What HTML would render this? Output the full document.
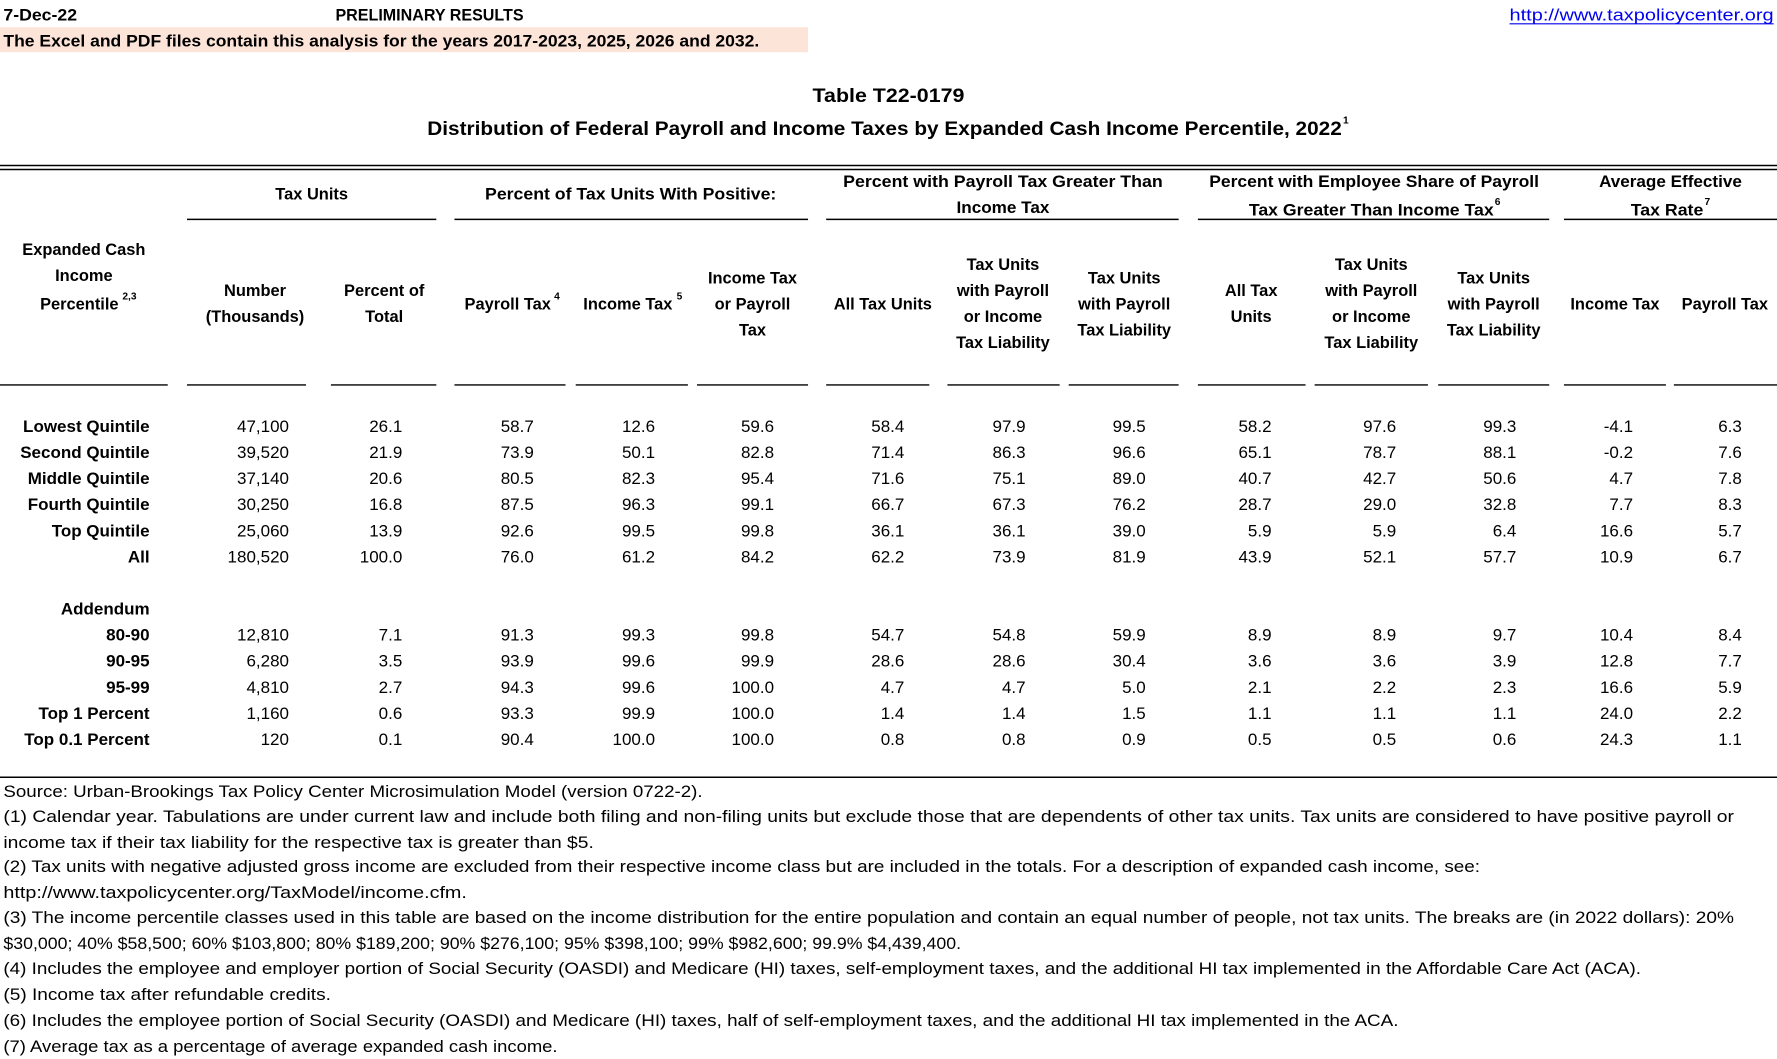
<!DOCTYPE html>
<html><head><meta charset="utf-8"><style>
html,body{margin:0;padding:0;background:#fff;}
svg{display:block;}
text{font-family:"Liberation Sans",Arial,sans-serif;fill:#000;}
.b{font-weight:bold;font-size:14.5px;}
.h{font-weight:bold;font-size:14.5px;text-anchor:middle;}
.d{font-size:15px;text-anchor:end;}
.s{font-weight:bold;font-size:15px;text-anchor:end;}
.f{font-size:14.5px;}
.sup{font-size:9px;}
</style></head><body>
<svg width="1777" height="1059" viewBox="0 0 1568 934" preserveAspectRatio="none" xmlns="http://www.w3.org/2000/svg">
<rect x="0" y="24" width="713" height="22" fill="#fde4d8"/>
<text class="b" x="3" y="18" textLength="65" lengthAdjust="spacingAndGlyphs">7-Dec-22</text>
<text class="b" x="296" y="18" textLength="166" lengthAdjust="spacingAndGlyphs">PRELIMINARY RESULTS</text>
<text class="b" x="3" y="41" textLength="667" lengthAdjust="spacingAndGlyphs">The Excel and PDF files contain this analysis for the years 2017-2023, 2025, 2026 and 2032.</text>
<text x="1332" y="18" style="font-size:15px;fill:#0000ee;" textLength="233" lengthAdjust="spacingAndGlyphs">http://www.taxpolicycenter.org</text>
<line x1="1332" y1="21" x2="1565" y2="21" stroke="#0000ee" stroke-width="1"/>
<text class="b" x="717" y="90" style="font-size:17.5px" textLength="134" lengthAdjust="spacingAndGlyphs">Table T22-0179</text>
<text class="b" x="377" y="119" style="font-size:17.5px" textLength="807" lengthAdjust="spacingAndGlyphs">Distribution of Federal Payroll and Income Taxes by Expanded Cash Income Percentile, 2022</text>
<text class="sup" x="1185" y="109" style="font-weight:bold">1</text>
<line x1="0" y1="146" x2="1568" y2="146" stroke="#000" stroke-width="1.3"/>
<line x1="0" y1="149.5" x2="1568" y2="149.5" stroke="#000" stroke-width="1.3"/>
<text class="h" x="275" y="176">Tax Units</text>
<text class="b" x="428" y="176" textLength="257" lengthAdjust="spacingAndGlyphs">Percent of Tax Units With Positive:</text>
<text class="b" x="744" y="165" textLength="282" lengthAdjust="spacingAndGlyphs">Percent with Payroll Tax Greater Than</text>
<text class="b" x="844" y="188" textLength="82" lengthAdjust="spacingAndGlyphs">Income Tax</text>
<text class="b" x="1067" y="165" textLength="291" lengthAdjust="spacingAndGlyphs">Percent with Employee Share of Payroll</text>
<text class="b" x="1102" y="190" textLength="216" lengthAdjust="spacingAndGlyphs">Tax Greater Than Income Tax</text>
<text class="sup" x="1319" y="181" style="font-weight:bold">6</text>
<text class="b" x="1411" y="165" textLength="126" lengthAdjust="spacingAndGlyphs">Average Effective</text>
<text class="b" x="1439" y="190" textLength="64" lengthAdjust="spacingAndGlyphs">Tax Rate</text>
<text class="sup" x="1504" y="181" style="font-weight:bold">7</text>
<g stroke="#000" stroke-width="1.3">
<line x1="165" y1="193.5" x2="385" y2="193.5"/>
<line x1="401" y1="193.5" x2="713" y2="193.5"/>
<line x1="729" y1="193.5" x2="1040" y2="193.5"/>
<line x1="1057" y1="193.5" x2="1367" y2="193.5"/>
<line x1="1380" y1="193.5" x2="1568" y2="193.5"/>
<line x1="0" y1="339.5" x2="148" y2="339.5"/>
<line x1="165" y1="339.5" x2="270" y2="339.5"/>
<line x1="292" y1="339.5" x2="385" y2="339.5"/>
<line x1="401" y1="339.5" x2="499" y2="339.5"/>
<line x1="508" y1="339.5" x2="607" y2="339.5"/>
<line x1="615" y1="339.5" x2="713" y2="339.5"/>
<line x1="729" y1="339.5" x2="820" y2="339.5"/>
<line x1="836" y1="339.5" x2="935" y2="339.5"/>
<line x1="943" y1="339.5" x2="1040" y2="339.5"/>
<line x1="1057" y1="339.5" x2="1152" y2="339.5"/>
<line x1="1160" y1="339.5" x2="1260" y2="339.5"/>
<line x1="1269" y1="339.5" x2="1367" y2="339.5"/>
<line x1="1380" y1="339.5" x2="1470" y2="339.5"/>
<line x1="1477" y1="339.5" x2="1568" y2="339.5"/>
<line x1="0" y1="685.5" x2="1568" y2="685.5"/>
</g>
<text class="h" x="74" y="225">Expanded Cash</text>
<text class="h" x="74" y="248">Income</text>
<text class="h" x="70" y="273">Percentile</text><text class="sup" x="108" y="264" style="font-weight:bold">2,3</text>
<text class="h" x="225" y="261">Number</text>
<text class="h" x="225" y="284">(Thousands)</text>
<text class="h" x="339" y="261">Percent of</text>
<text class="h" x="339" y="284">Total</text>
<text class="h" x="448" y="273">Payroll Tax</text><text class="sup" x="489" y="264" style="font-weight:bold">4</text>
<text class="h" x="554" y="273">Income Tax</text><text class="sup" x="597" y="264" style="font-weight:bold">5</text>
<text class="h" x="664" y="250">Income Tax</text>
<text class="h" x="664" y="273">or Payroll</text>
<text class="h" x="664" y="296">Tax</text>
<text class="h" x="779" y="273">All Tax Units</text>
<text class="h" x="885" y="238">Tax Units</text>
<text class="h" x="885" y="261">with Payroll</text>
<text class="h" x="885" y="284">or Income</text>
<text class="h" x="885" y="307">Tax Liability</text>
<text class="h" x="992" y="250">Tax Units</text>
<text class="h" x="992" y="273">with Payroll</text>
<text class="h" x="992" y="296">Tax Liability</text>
<text class="h" x="1104" y="261">All Tax</text>
<text class="h" x="1104" y="284">Units</text>
<text class="h" x="1210" y="238">Tax Units</text>
<text class="h" x="1210" y="261">with Payroll</text>
<text class="h" x="1210" y="284">or Income</text>
<text class="h" x="1210" y="307">Tax Liability</text>
<text class="h" x="1318" y="250">Tax Units</text>
<text class="h" x="1318" y="273">with Payroll</text>
<text class="h" x="1318" y="296">Tax Liability</text>
<text class="h" x="1425" y="273">Income Tax</text>
<text class="h" x="1522" y="273">Payroll Tax</text>
<text class="s" x="132" y="381">Lowest Quintile</text>
<text class="s" x="132" y="404">Second Quintile</text>
<text class="s" x="132" y="427">Middle Quintile</text>
<text class="s" x="132" y="450">Fourth Quintile</text>
<text class="s" x="132" y="473">Top Quintile</text>
<text class="s" x="132" y="496">All</text>
<text class="s" x="132" y="542">Addendum</text>
<text class="s" x="132" y="565">80-90</text>
<text class="s" x="132" y="588">90-95</text>
<text class="s" x="132" y="611">95-99</text>
<text class="s" x="132" y="634">Top 1 Percent</text>
<text class="s" x="132" y="657">Top 0.1 Percent</text>
<text class="f" x="3" y="703" textLength="617" lengthAdjust="spacingAndGlyphs">Source: Urban-Brookings Tax Policy Center Microsimulation Model (version 0722-2).</text>
<text class="f" x="3" y="725" textLength="1527" lengthAdjust="spacingAndGlyphs">(1) Calendar year. Tabulations are under current law and include both filing and non-filing units but exclude those that are dependents of other tax units.  Tax units are considered to have positive payroll or</text>
<text class="f" x="3" y="748" textLength="521" lengthAdjust="spacingAndGlyphs">income tax if their tax liability for the respective tax is greater than $5.</text>
<text class="f" x="3" y="769" textLength="1303" lengthAdjust="spacingAndGlyphs">(2) Tax units with negative adjusted gross income are excluded from their respective income class but are included in the totals. For a description of expanded cash income, see:</text>
<text class="f" x="3" y="792" textLength="409" lengthAdjust="spacingAndGlyphs">http://www.taxpolicycenter.org/TaxModel/income.cfm.</text>
<text class="f" x="3" y="814" textLength="1527" lengthAdjust="spacingAndGlyphs">(3) The income percentile classes used in this table are based on the income distribution for the entire population and contain an equal number of people, not tax units. The breaks are (in 2022 dollars): 20%</text>
<text class="f" x="3" y="837" textLength="845" lengthAdjust="spacingAndGlyphs">$30,000; 40% $58,500; 60% $103,800; 80% $189,200; 90% $276,100; 95% $398,100; 99% $982,600; 99.9% $4,439,400.</text>
<text class="f" x="3" y="859" textLength="1445" lengthAdjust="spacingAndGlyphs">(4) Includes the employee and employer portion of Social Security (OASDI) and Medicare (HI) taxes, self-employment taxes, and the additional HI tax implemented in the Affordable Care Act (ACA).</text>
<text class="f" x="3" y="882" textLength="289" lengthAdjust="spacingAndGlyphs">(5) Income tax after refundable credits.</text>
<text class="f" x="3" y="905" textLength="1231" lengthAdjust="spacingAndGlyphs">(6) Includes the employee portion of Social Security (OASDI) and Medicare (HI) taxes, half of self-employment taxes, and the additional HI tax implemented in the ACA.</text>
<text class="f" x="3" y="928" textLength="489" lengthAdjust="spacingAndGlyphs">(7) Average tax as a percentage of average expanded cash income.</text>
<g>
<text class="d" x="255" y="381">47,100</text><text class="d" x="355" y="381">26.1</text><text class="d" x="471" y="381">58.7</text><text class="d" x="578" y="381">12.6</text><text class="d" x="683" y="381">59.6</text><text class="d" x="798" y="381">58.4</text><text class="d" x="905" y="381">97.9</text><text class="d" x="1011" y="381">99.5</text><text class="d" x="1122" y="381">58.2</text><text class="d" x="1232" y="381">97.6</text><text class="d" x="1338" y="381">99.3</text><text class="d" x="1441" y="381">-4.1</text><text class="d" x="1537" y="381">6.3</text>
<text class="d" x="255" y="404">39,520</text><text class="d" x="355" y="404">21.9</text><text class="d" x="471" y="404">73.9</text><text class="d" x="578" y="404">50.1</text><text class="d" x="683" y="404">82.8</text><text class="d" x="798" y="404">71.4</text><text class="d" x="905" y="404">86.3</text><text class="d" x="1011" y="404">96.6</text><text class="d" x="1122" y="404">65.1</text><text class="d" x="1232" y="404">78.7</text><text class="d" x="1338" y="404">88.1</text><text class="d" x="1441" y="404">-0.2</text><text class="d" x="1537" y="404">7.6</text>
<text class="d" x="255" y="427">37,140</text><text class="d" x="355" y="427">20.6</text><text class="d" x="471" y="427">80.5</text><text class="d" x="578" y="427">82.3</text><text class="d" x="683" y="427">95.4</text><text class="d" x="798" y="427">71.6</text><text class="d" x="905" y="427">75.1</text><text class="d" x="1011" y="427">89.0</text><text class="d" x="1122" y="427">40.7</text><text class="d" x="1232" y="427">42.7</text><text class="d" x="1338" y="427">50.6</text><text class="d" x="1441" y="427">4.7</text><text class="d" x="1537" y="427">7.8</text>
<text class="d" x="255" y="450">30,250</text><text class="d" x="355" y="450">16.8</text><text class="d" x="471" y="450">87.5</text><text class="d" x="578" y="450">96.3</text><text class="d" x="683" y="450">99.1</text><text class="d" x="798" y="450">66.7</text><text class="d" x="905" y="450">67.3</text><text class="d" x="1011" y="450">76.2</text><text class="d" x="1122" y="450">28.7</text><text class="d" x="1232" y="450">29.0</text><text class="d" x="1338" y="450">32.8</text><text class="d" x="1441" y="450">7.7</text><text class="d" x="1537" y="450">8.3</text>
<text class="d" x="255" y="473">25,060</text><text class="d" x="355" y="473">13.9</text><text class="d" x="471" y="473">92.6</text><text class="d" x="578" y="473">99.5</text><text class="d" x="683" y="473">99.8</text><text class="d" x="798" y="473">36.1</text><text class="d" x="905" y="473">36.1</text><text class="d" x="1011" y="473">39.0</text><text class="d" x="1122" y="473">5.9</text><text class="d" x="1232" y="473">5.9</text><text class="d" x="1338" y="473">6.4</text><text class="d" x="1441" y="473">16.6</text><text class="d" x="1537" y="473">5.7</text>
<text class="d" x="255" y="496">180,520</text><text class="d" x="355" y="496">100.0</text><text class="d" x="471" y="496">76.0</text><text class="d" x="578" y="496">61.2</text><text class="d" x="683" y="496">84.2</text><text class="d" x="798" y="496">62.2</text><text class="d" x="905" y="496">73.9</text><text class="d" x="1011" y="496">81.9</text><text class="d" x="1122" y="496">43.9</text><text class="d" x="1232" y="496">52.1</text><text class="d" x="1338" y="496">57.7</text><text class="d" x="1441" y="496">10.9</text><text class="d" x="1537" y="496">6.7</text>
<text class="d" x="255" y="565">12,810</text><text class="d" x="355" y="565">7.1</text><text class="d" x="471" y="565">91.3</text><text class="d" x="578" y="565">99.3</text><text class="d" x="683" y="565">99.8</text><text class="d" x="798" y="565">54.7</text><text class="d" x="905" y="565">54.8</text><text class="d" x="1011" y="565">59.9</text><text class="d" x="1122" y="565">8.9</text><text class="d" x="1232" y="565">8.9</text><text class="d" x="1338" y="565">9.7</text><text class="d" x="1441" y="565">10.4</text><text class="d" x="1537" y="565">8.4</text>
<text class="d" x="255" y="588">6,280</text><text class="d" x="355" y="588">3.5</text><text class="d" x="471" y="588">93.9</text><text class="d" x="578" y="588">99.6</text><text class="d" x="683" y="588">99.9</text><text class="d" x="798" y="588">28.6</text><text class="d" x="905" y="588">28.6</text><text class="d" x="1011" y="588">30.4</text><text class="d" x="1122" y="588">3.6</text><text class="d" x="1232" y="588">3.6</text><text class="d" x="1338" y="588">3.9</text><text class="d" x="1441" y="588">12.8</text><text class="d" x="1537" y="588">7.7</text>
<text class="d" x="255" y="611">4,810</text><text class="d" x="355" y="611">2.7</text><text class="d" x="471" y="611">94.3</text><text class="d" x="578" y="611">99.6</text><text class="d" x="683" y="611">100.0</text><text class="d" x="798" y="611">4.7</text><text class="d" x="905" y="611">4.7</text><text class="d" x="1011" y="611">5.0</text><text class="d" x="1122" y="611">2.1</text><text class="d" x="1232" y="611">2.2</text><text class="d" x="1338" y="611">2.3</text><text class="d" x="1441" y="611">16.6</text><text class="d" x="1537" y="611">5.9</text>
<text class="d" x="255" y="634">1,160</text><text class="d" x="355" y="634">0.6</text><text class="d" x="471" y="634">93.3</text><text class="d" x="578" y="634">99.9</text><text class="d" x="683" y="634">100.0</text><text class="d" x="798" y="634">1.4</text><text class="d" x="905" y="634">1.4</text><text class="d" x="1011" y="634">1.5</text><text class="d" x="1122" y="634">1.1</text><text class="d" x="1232" y="634">1.1</text><text class="d" x="1338" y="634">1.1</text><text class="d" x="1441" y="634">24.0</text><text class="d" x="1537" y="634">2.2</text>
<text class="d" x="255" y="657">120</text><text class="d" x="355" y="657">0.1</text><text class="d" x="471" y="657">90.4</text><text class="d" x="578" y="657">100.0</text><text class="d" x="683" y="657">100.0</text><text class="d" x="798" y="657">0.8</text><text class="d" x="905" y="657">0.8</text><text class="d" x="1011" y="657">0.9</text><text class="d" x="1122" y="657">0.5</text><text class="d" x="1232" y="657">0.5</text><text class="d" x="1338" y="657">0.6</text><text class="d" x="1441" y="657">24.3</text><text class="d" x="1537" y="657">1.1</text>
</g>
</svg>
</body></html>
